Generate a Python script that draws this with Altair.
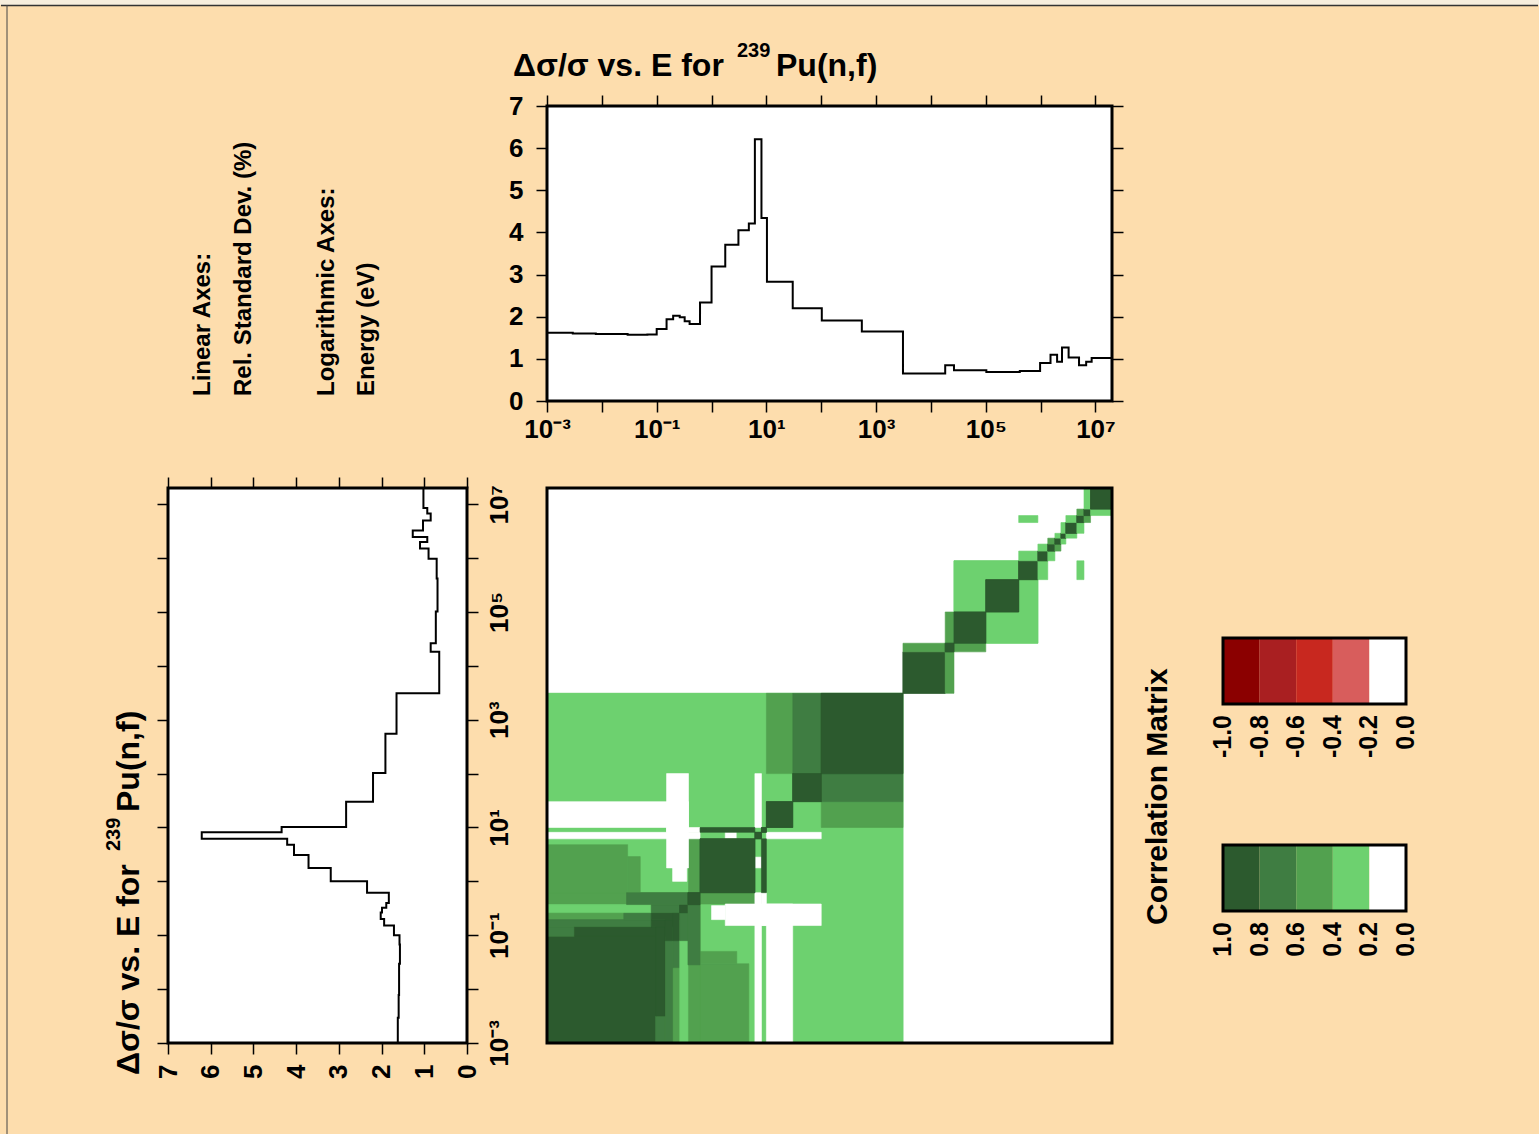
import altair as alt
import pandas as pd

# ---------------- data ----------------
# group edges (log10 of energy in eV) and relative standard deviation (%) per group
edge_log10 = [-3.0, -2.53, -2.11, -1.53, -1.17, -1.0, -0.82, -0.70, -0.58, -0.49, -0.40,
              -0.21, 0.0, 0.25, 0.49, 0.68, 0.79, 0.91, 1.01, 1.48, 2.01, 2.74, 3.49,
              4.26, 4.42, 5.01, 5.62, 5.99, 6.18, 6.30, 6.39, 6.51, 6.70, 6.83, 6.93, 7.30]
rsd_pct = [1.62, 1.60, 1.59, 1.57, 1.58, 1.71, 1.94, 2.02, 1.99, 1.89, 1.83, 2.34, 3.19,
           3.71, 4.05, 4.21, 6.21, 4.34, 2.83, 2.20, 1.91, 1.65, 0.65, 0.85, 0.73, 0.69,
           0.71, 0.90, 1.10, 0.93, 1.27, 1.03, 0.85, 0.93, 1.02]

decade_exponents = list(range(-3, 8))
rsd_ticks = list(range(0, 8))
energy_min, energy_max = 1e-3, 2e7
rsd_min, rsd_max = 0, 7

# correlation blocks (col_lo, col_hi, row_lo, row_hi, level) in log10 eV; mirrored about diagonal
low_base = [(-3.0, 3.49, -3.0, 3.49, 1)]
low_levels = [
    (1.0, 1.48, 2.0, 3.49, 2),
    (1.48, 2.0, 2.0, 3.49, 3),
    (-3.0, -1.53, -0.21, 0.68, 2),
    (-1.53, -1.3, -0.21, 0.46, 2),
    (-0.42, -0.21, -0.21, 0.79, 2),
]
q_blocks = [
    (-3.0, -0.21, -3.0, -0.21, 2),
    (-3.0, -1.02, -3.0, -1.02, 4),
    (-3.0, -2.5, -1.02, -0.84, 3),
    (-2.5, -0.84, -1.02, -0.84, 4),
    (-3.0, -1.1, -0.84, -0.71, 3),
    (-1.1, -0.71, -0.84, -0.71, 4),
    (-1.6, -1.1, -0.71, -0.58, 3),
    (-1.1, -0.58, -0.71, -0.58, 4),
    (-3.0, -1.1, -0.58, -0.43, 1),
    (-1.1, -0.58, -0.58, -0.43, 3),
    (-0.58, -0.43, -0.58, -0.43, 4),
    (-1.55, -0.43, -0.43, -0.21, 3),
    (-0.43, -0.21, -0.43, -0.21, 4),
]
low_white = [
    (-3.0, -0.42, 1.0, 1.48, 0),
    (-0.82, -0.42, 0.25, 2.0, 0),
    (-0.71, -0.45, 0.0, 0.25, 0),
    (0.79, 0.91, 1.0, 2.0, 0),
    (-3.0, -0.21, 0.79, 0.91, 0),
    (-0.82, -0.21, 0.91, 1.0, 0),
    (0.25, 0.45, 0.79, 0.91, 0),
]
low_dark = [
    (2.0, 3.49, 2.0, 3.49, 4),
    (1.48, 2.0, 1.48, 2.0, 4),
    (1.0, 1.48, 1.0, 1.48, 4),
    (-0.21, 0.79, -0.21, 0.79, 4),
    (-0.21, 0.79, 0.91, 1.0, 4),
    (0.79, 0.91, 0.79, 0.91, 4),
    (0.91, 1.0, 0.91, 1.0, 4),
]
high_blocks = [
    (3.49, 4.26, 3.49, 4.26, 4),
    (4.26, 4.42, 3.49, 4.26, 2),
    (4.26, 4.42, 4.42, 5.0, 2),
    (4.42, 5.95, 4.42, 5.95, 1),
    (4.26, 4.42, 4.26, 4.42, 4),
    (4.42, 5.0, 4.42, 5.0, 4),
    (5.0, 5.6, 5.0, 5.6, 4),
    (5.6, 5.95, 5.6, 5.95, 4),
    (5.6, 5.95, 5.95, 6.13, 1),
    (5.95, 6.13, 5.95, 6.13, 4),
    (5.95, 6.13, 6.13, 6.26, 1),
    (6.13, 6.26, 6.13, 6.26, 4),
    (6.13, 6.26, 6.26, 6.37, 2),
    (6.26, 6.37, 6.26, 6.37, 4),
    (6.26, 6.37, 6.37, 6.46, 1),
    (6.37, 6.46, 6.37, 6.46, 4),
    (6.37, 6.46, 6.46, 6.66, 1),
    (6.46, 6.66, 6.46, 6.66, 4),
    (6.46, 6.66, 6.66, 6.79, 1),
    (6.66, 6.79, 6.66, 6.79, 4),
    (6.66, 6.79, 6.79, 6.91, 2),
    (6.79, 6.91, 6.79, 6.91, 4),
    (6.79, 6.91, 6.91, 7.30, 1),
    (6.91, 7.30, 6.91, 7.30, 4),
    (5.6, 5.95, 6.66, 6.79, 1),
]
level_names = ['0', '1', '2', '3', '4']
level_colors = ['#FFFFFF', '#6DD16F', '#52A14F', '#3F7D42', '#2C5A2E']

neg_edges = [-1.0, -0.8, -0.6, -0.4, -0.2, 0.0]
neg_colors = ['#8B0000', '#A91F21', '#C8281F', '#D85D5C', '#FFFFFF']
pos_edges = [1.0, 0.8, 0.6, 0.4, 0.2, 0.0]
pos_colors = ['#2C5A2E', '#3F7D42', '#52A14F', '#6DD16F', '#FFFFFF']

title_parts = ['Δσ/σ vs. E for', '239', 'Pu(n,f)']
note_texts = ['Linear Axes:', 'Rel. Standard Dev.  (%)', 'Logarithmic Axes:', 'Energy (eV)']
cbar_title = 'Correlation Matrix'

# ---------------- layout / style ----------------
BG = '#FDDDAD'
FONT = 'Liberation Sans'
W = 1539
TOP_X = (547, 1112)      # top panel plot-area left/right
LEFT_X = (168, 467)      # rotated panel plot-area left/right
MAT_X = (547, 1112)      # matrix plot-area left/right
BAR_X = (1223, 1406)     # colour bars left/right

# ---------------- derived tables ----------------
E_edges = [10.0 ** v for v in edge_log10]
sx, sy = [], []
for k, val in enumerate(rsd_pct):
    sx += [E_edges[k], E_edges[k + 1]]
    sy += [val, val]
step_df = pd.DataFrame({'E': sx, 'v': sy, 'i': list(range(len(sx)))})

rows = []
for group in (low_base, low_levels, q_blocks, low_white, low_dark, high_blocks):
    for (c0, c1, r0, r1, lev) in group:
        rows.append(dict(x1=10 ** c0, x2=10 ** c1, y1=10 ** r0, y2=10 ** r1, lev=str(lev)))
        rows.append(dict(x1=10 ** r0, x2=10 ** r1, y1=10 ** c0, y2=10 ** c1, lev=str(lev)))
mat_df = pd.DataFrame(rows)

decades = [10.0 ** k for k in decade_exponents]
sup = {-3: '10⁻³', -1: '10⁻¹', 1: '10¹', 3: '10³', 5: '10⁵', 7: '10⁷'}
dec_expr = ' : '.join(f"round(log(datum.value)/LN10) == {k} ? '{v}'" for k, v in sup.items()) + " : ''"

tick_kw = dict(tickSize=11, tickWidth=1.5, tickColor='black', domain=False, grid=False,
               labelFont=FONT, labelFontSize=26, labelFontWeight='bold', labelColor='black',
               title='', labelOverlap=False, labelFlush=False)


def txt(text, x, y, size, angle=0, align='left', baseline='middle', weight='bold'):
    return alt.Chart(pd.DataFrame({'t': [text]})).mark_text(
        font=FONT, fontSize=size, fontWeight=weight, angle=angle, align=align,
        baseline=baseline, color='black').encode(text='t:N', x=alt.value(x), y=alt.value(y))


def vline(x, y0, y1):
    return alt.Chart(pd.DataFrame({'a': [0]})).mark_rule(color='#444444', strokeWidth=1).encode(
        x=alt.value(x), y=alt.value(y0), y2=alt.value(y1))


def box(xf, yf, xs, ys, xv, yv, filled):
    df = pd.DataFrame({xf: [xv[0]], xf + '2': [xv[1]], yf: [yv[0]], yf + '2': [yv[1]]})
    if filled:
        m = alt.Chart(df).mark_rect(fill='white', strokeWidth=0)
    else:
        m = alt.Chart(df).mark_rect(fillOpacity=0, stroke='black', strokeWidth=3)
    return m.encode(x=alt.X(f'{xf}:Q', scale=xs, axis=None), x2=f'{xf}2:Q',
                    y=alt.Y(f'{yf}:Q', scale=ys, axis=None), y2=f'{yf}2:Q')


NOVIEW = alt.ViewBackground(stroke='transparent', strokeWidth=0)

# ---------------- chart 0: top strip + title ----------------
top_strip = alt.Chart(pd.DataFrame({'a': [0]})).mark_rect(color='#F7EEDD').encode(
    x=alt.value(0), x2=alt.value(W), y=alt.value(0), y2=alt.value(5))
top_rule = alt.Chart(pd.DataFrame({'a': [0]})).mark_rule(color='#333333', strokeWidth=1.5).encode(
    x=alt.value(1), x2=alt.value(W - 1), y=alt.value(5.5))
c0 = alt.layer(
    top_strip, top_rule, vline(7, 5, 106),
    txt(title_parts[0], 513, 76, 32, baseline='alphabetic'),
    txt(title_parts[1], 737, 57, 20, baseline='alphabetic'),
    txt(title_parts[2], 776, 76, 32, baseline='alphabetic'),
).properties(width=W, height=106, view=NOVIEW)

# ---------------- chart 1: notes + top panel ----------------
H1 = 295
xs_top = alt.Scale(type='log', domain=[energy_min, energy_max], nice=False, range=list(TOP_X))
ys_top = alt.Scale(domain=[rsd_min, rsd_max], nice=False, zero=False)
top_line = alt.Chart(step_df).mark_line(color='black', strokeWidth=2).encode(
    x=alt.X('E:Q', scale=xs_top, axis=alt.Axis(orient='bottom', values=decades, labelExpr=dec_expr,
                                               labelPadding=4, **tick_kw)),
    y=alt.Y('v:Q', scale=ys_top, axis=alt.Axis(orient='left', values=rsd_ticks, format='d',
                                               offset=-TOP_X[0], labelPadding=13, **tick_kw)),
    order='i:Q')
top_ghost = alt.Chart(step_df).mark_line(opacity=0).encode(
    x=alt.X('E:Q', scale=xs_top, axis=alt.Axis(orient='top', values=decades, labels=False, **tick_kw)),
    y=alt.Y('v:Q', scale=ys_top, axis=alt.Axis(orient='right', values=rsd_ticks, labels=False,
                                               offset=-(W - TOP_X[1]), **tick_kw)),
    order='i:Q')
c1 = alt.layer(
    vline(7, 0, H1),
    txt(note_texts[0], 203, 290, 24, angle=270),
    txt(note_texts[1], 244, 290, 24, angle=270),
    txt(note_texts[2], 327, 290, 24, angle=270),
    txt(note_texts[3], 367, 290, 24, angle=270),
    box('E', 'v', xs_top, ys_top, (energy_min, energy_max), (rsd_min, rsd_max), True),
    top_line, top_ghost,
    box('E', 'v', xs_top, ys_top, (energy_min, energy_max), (rsd_min, rsd_max), False),
).resolve_axis(x='independent', y='independent').properties(width=W, height=H1, view=NOVIEW)

# ---------------- chart 2: gap ----------------
c2 = alt.layer(vline(7, 0, 85)).properties(width=W, height=85, view=NOVIEW)

# ---------------- chart 3: correlation matrix (1px tall row, draws below) ----------------
xs_mat = alt.Scale(type='log', domain=[energy_min, energy_max], nice=False, range=list(MAT_X))
ys_mat = alt.Scale(type='log', domain=[energy_min, energy_max], nice=False, range=[557, 2])
cscale = alt.Scale(domain=level_names, range=level_colors)
mat_cells = alt.Chart(mat_df).mark_rect(strokeWidth=0.6).encode(
    x=alt.X('x1:Q', scale=xs_mat, axis=None), x2='x2:Q',
    y=alt.Y('y1:Q', scale=ys_mat, axis=None), y2='y2:Q',
    color=alt.Color('lev:N', scale=cscale, legend=None),
    stroke=alt.Stroke('lev:N', scale=cscale, legend=None))
c3 = alt.layer(
    box('x1', 'y1', xs_mat, ys_mat, (energy_min, energy_max), (energy_min, energy_max), True),
    mat_cells,
    box('x1', 'y1', xs_mat, ys_mat, (energy_min, energy_max), (energy_min, energy_max), False),
).properties(width=W, height=1, view=NOVIEW)

# ---------------- chart 4: colour bars (1px tall row) ----------------
bar_scale = alt.Scale(domain=[0, 1], reverse=True, nice=False, zero=False, range=list(BAR_X))


def bar_layers(edges, colours, y0, y1):
    mag = [abs(e) for e in edges]
    df = pd.DataFrame({'a': mag[:-1], 'b': mag[1:], 'c': colours})
    cells = alt.Chart(df).mark_rect().encode(
        x=alt.X('a:Q', scale=bar_scale, axis=None), x2='b:Q',
        y=alt.value(y0), y2=alt.value(y1), color=alt.Color('c:N', scale=None))
    frame = alt.Chart(pd.DataFrame({'a': [max(mag)], 'b': [min(mag)]})).mark_rect(
        fillOpacity=0, stroke='black', strokeWidth=3).encode(
        x=alt.X('a:Q', scale=bar_scale, axis=None), x2='b:Q', y=alt.value(y0), y2=alt.value(y1))
    labs = alt.Chart(pd.DataFrame({'p': mag, 't': [f'{e:.1f}' for e in edges]})).mark_text(
        angle=270, align='right', baseline='middle', font=FONT, fontSize=25, fontWeight='bold',
        color='black').encode(x=alt.X('p:Q', scale=bar_scale, axis=None), y=alt.value(y1 + 11), text='t:N')
    return [cells, frame, labs]


c4 = alt.layer(
    *bar_layers(neg_edges, neg_colors, 151, 217),
    *bar_layers(pos_edges, pos_colors, 358, 424),
    txt(cbar_title, 1158, 438, 30, angle=270),
).properties(width=W, height=1, view=NOVIEW)

# ---------------- chart 5: rotated panel ----------------
H5 = 555
xs_left = alt.Scale(domain=[rsd_min, rsd_max], nice=False, zero=False, range=[LEFT_X[1], LEFT_X[0]])
ys_left = alt.Scale(type='log', domain=[energy_min, energy_max], nice=False)
left_line = alt.Chart(step_df).mark_line(color='black', strokeWidth=2).encode(
    x=alt.X('v:Q', scale=xs_left, axis=alt.Axis(orient='bottom', values=rsd_ticks, format='d',
                                                labelAngle=270, labelAlign='right',
                                                labelBaseline='middle', labelPadding=10, **tick_kw)),
    y=alt.Y('E:Q', scale=ys_left, axis=alt.Axis(orient='right', values=decades, labelExpr=dec_expr,
                                                labelAngle=270, labelAlign='center', labelBaseline='top',
                                                labelPadding=8, offset=-(W - LEFT_X[1]), **tick_kw)),
    order='i:Q')
left_ghost = alt.Chart(step_df).mark_line(opacity=0).encode(
    x=alt.X('v:Q', scale=xs_left, axis=alt.Axis(orient='top', values=rsd_ticks, labels=False, **tick_kw)),
    y=alt.Y('E:Q', scale=ys_left, axis=alt.Axis(orient='left', values=decades, labels=False,
                                                offset=-LEFT_X[0], **tick_kw)),
    order='i:Q')
c5 = alt.layer(
    vline(7, -2, H5),
    txt(title_parts[0], 139, 587, 32, angle=270, baseline='alphabetic'),
    txt(title_parts[1], 120, 363, 20, angle=270, baseline='alphabetic'),
    txt(title_parts[2], 139, 324, 32, angle=270, baseline='alphabetic'),
    box('v', 'E', xs_left, ys_left, (rsd_min, rsd_max), (energy_min, energy_max), True),
    left_line, left_ghost,
    box('v', 'E', xs_left, ys_left, (rsd_min, rsd_max), (energy_min, energy_max), False),
).resolve_axis(x='independent', y='independent').properties(width=W, height=H5, view=NOVIEW)

# ---------------- chart 6: bottom ----------------
c6 = alt.layer(vline(7, 0, 91)).properties(width=W, height=91, view=NOVIEW)

chart = alt.vconcat(c0, c1, c2, c3, c4, c5, c6, spacing=0, bounds='flush',
                    background=BG, padding=0).configure_view(
    stroke='transparent', strokeWidth=0).configure(font=FONT)

chart.save('out.html', embed_options={'renderer': 'svg', 'actions': False})
